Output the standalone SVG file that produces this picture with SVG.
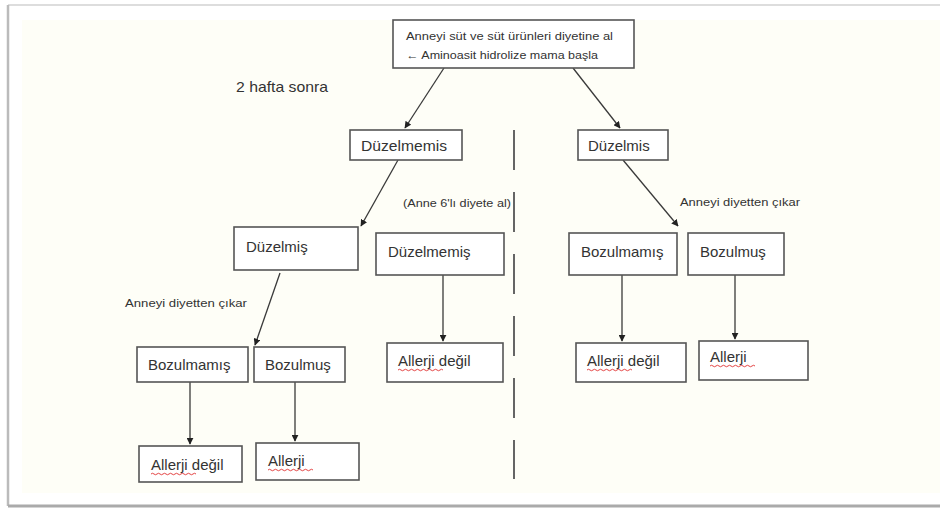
<svg xmlns="http://www.w3.org/2000/svg" width="940" height="509" viewBox="0 0 940 509">
  <style>
    .box { fill: #ffffff; stroke: #555555; stroke-width: 1.6; }
    .lbl { font-family: "Liberation Sans", "Open Sans", sans-serif; fill: #333333; font-size: 15px; }
    .sm { font-family: "Liberation Sans", "Open Sans", sans-serif; fill: #333333; font-size: 11.5px; }
    .edge { stroke: #3a3a3a; stroke-width: 1.3; fill: none; marker-end: url(#tip); }
    .squig { stroke: #e03030; stroke-width: 0.9; fill: none; }
  </style>
  <defs>
    <marker id="tip" viewBox="0 0 10 10" refX="9" refY="5" markerWidth="7" markerHeight="7" orient="auto" markerUnits="userSpaceOnUse">
      <path d="M0,0 L10,5 L0,10 z" fill="#222222"/>
    </marker>
  </defs>

  <!-- page frame -->
  <rect x="0" y="0" width="940" height="509" fill="#ffffff"/>
  <rect x="22" y="20" width="918" height="473" fill="#fefef7"/>
  <line x1="8" y1="5" x2="940" y2="5" stroke="#dddddd" stroke-width="2"/>
  <line x1="8" y1="5" x2="8" y2="506" stroke="#bbbbbb" stroke-width="2.5"/>
  <line x1="8" y1="506" x2="940" y2="506" stroke="#aaaaaa" stroke-width="3"/>

  <!-- connectors -->
  <g id="connectors">
    <line class="edge" x1="444" y1="68" x2="405" y2="128"/>
    <line class="edge" x1="573" y1="68" x2="620" y2="128"/>
    <line class="edge" x1="398" y1="160" x2="361" y2="226"/>
    <line class="edge" x1="623" y1="160" x2="678" y2="226"/>
    <line class="edge" x1="280" y1="273" x2="255" y2="345"/>
    <line class="edge" x1="443" y1="275" x2="443" y2="341"/>
    <line class="edge" x1="622" y1="275" x2="622" y2="341"/>
    <line class="edge" x1="735" y1="275" x2="735" y2="339"/>
    <line class="edge" x1="190" y1="382" x2="190" y2="444"/>
    <line class="edge" x1="295" y1="382" x2="295" y2="441"/>
    <!-- dashed divider -->
    <line x1="514" y1="130" x2="514" y2="479" stroke="#555555" stroke-width="1.8" stroke-dasharray="40 22"/>
  </g>

  <!-- free labels -->
  <text class="lbl" x="236" y="92" textLength="92" lengthAdjust="spacingAndGlyphs">2 hafta sonra</text>
  <text class="sm" x="403" y="207" textLength="108" lengthAdjust="spacingAndGlyphs">(Anne 6'lı diyete al)</text>
  <text class="sm" x="680" y="206" textLength="120" lengthAdjust="spacingAndGlyphs">Anneyi diyetten çıkar</text>
  <text class="sm" x="125" y="307" textLength="122" lengthAdjust="spacingAndGlyphs">Anneyi diyetten çıkar</text>

  <g id="start">
    <rect class="box" x="393" y="20" width="241" height="48"/>
    <text class="sm" x="406" y="40" font-size="12" textLength="207" lengthAdjust="spacingAndGlyphs">Anneyi süt ve süt ürünleri diyetine al</text>
    <text class="sm" x="406" y="59" font-size="12" textLength="192" lengthAdjust="spacingAndGlyphs">← Aminoasit hidrolize mama başla</text>
  </g>

  <g id="duzelmemis-1">
    <rect class="box" x="350" y="130" width="112" height="30"/>
    <text class="lbl" x="361" y="151" textLength="86" lengthAdjust="spacingAndGlyphs">Düzelmemis</text>
  </g>
  <g id="duzelmis-1">
    <rect class="box" x="578" y="130" width="90" height="30"/>
    <text class="lbl" x="588" y="151">Düzelmis</text>
  </g>

  <g id="duzelmis-2">
    <rect class="box" x="234" y="227" width="124" height="43"/>
    <text class="lbl" x="246" y="252">Düzelmiş</text>
  </g>
  <g id="duzelmemis-2">
    <rect class="box" x="376" y="233" width="128" height="42"/>
    <text class="lbl" x="388" y="257">Düzelmemiş</text>
  </g>
  <g id="bozulmamis-r">
    <rect class="box" x="569" y="233" width="108" height="42"/>
    <text class="lbl" x="581" y="257">Bozulmamış</text>
  </g>
  <g id="bozulmus-r">
    <rect class="box" x="688" y="233" width="96" height="42"/>
    <text class="lbl" x="700" y="257">Bozulmuş</text>
  </g>

  <g id="allerji-degil-m">
    <rect class="box" x="387" y="343" width="116" height="39"/>
    <text class="lbl" x="398" y="366">Allerji değil</text>
    <path class="squig" d="M398,370 q1.5,-1.5 3,0 t3,0 t3,0 t3,0 t3,0 t3,0 t3,0 t3,0 t3,0 t3,0 t3,0 t3,0 t3,0 t3,0 t3,0"/>
  </g>
  <g id="allerji-degil-r">
    <rect class="box" x="576" y="343" width="110" height="39"/>
    <text class="lbl" x="587" y="366">Allerji değil</text>
    <path class="squig" d="M587,370 q1.5,-1.5 3,0 t3,0 t3,0 t3,0 t3,0 t3,0 t3,0 t3,0 t3,0 t3,0 t3,0 t3,0 t3,0 t3,0 t3,0"/>
  </g>
  <g id="allerji-r">
    <rect class="box" x="699" y="341" width="109" height="39"/>
    <text class="lbl" x="710" y="362">Allerji</text>
    <path class="squig" d="M710,366 q1.5,-1.5 3,0 t3,0 t3,0 t3,0 t3,0 t3,0 t3,0 t3,0 t3,0 t3,0 t3,0 t3,0 t3,0 t3,0 t3,0"/>
  </g>

  <g id="bozulmamis-l">
    <rect class="box" x="137" y="347" width="111" height="35"/>
    <text class="lbl" x="148" y="370">Bozulmamış</text>
  </g>
  <g id="bozulmus-l">
    <rect class="box" x="254" y="347" width="91" height="35"/>
    <text class="lbl" x="265" y="370">Bozulmuş</text>
  </g>

  <g id="allerji-degil-l">
    <rect class="box" x="139" y="446" width="103" height="36"/>
    <text class="lbl" x="151" y="470">Allerji değil</text>
    <path class="squig" d="M151,474 q1.5,-1.5 3,0 t3,0 t3,0 t3,0 t3,0 t3,0 t3,0 t3,0 t3,0 t3,0 t3,0 t3,0 t3,0 t3,0 t3,0"/>
  </g>
  <g id="allerji-l">
    <rect class="box" x="256" y="443" width="103" height="37"/>
    <text class="lbl" x="268" y="466">Allerji</text>
    <path class="squig" d="M268,470 q1.5,-1.5 3,0 t3,0 t3,0 t3,0 t3,0 t3,0 t3,0 t3,0 t3,0 t3,0 t3,0 t3,0 t3,0 t3,0 t3,0"/>
  </g>
</svg>
